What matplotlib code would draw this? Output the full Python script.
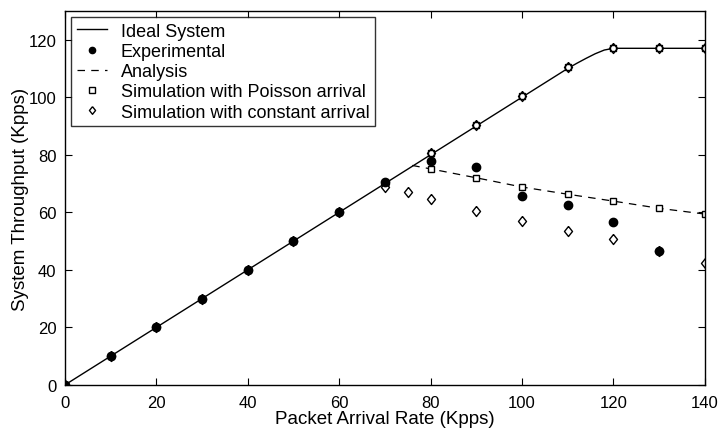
import numpy as np
import matplotlib.pyplot as plt
from matplotlib.lines import Line2D

plt.rcParams['font.family'] = ['Liberation Sans', 'DejaVu Sans']

# ideal system curve
ideal_x = [0, 10, 20, 30, 40, 50, 60, 70, 80, 90, 100, 110, 112, 114, 116, 118, 120, 130, 140]
ideal_y = [0, 10, 20, 30, 40, 50, 60, 70, 80, 90, 100, 110, 111.8, 113.5, 115.1, 116.4, 117, 117, 117]

# experimental
exp_x = [0, 10, 20, 30, 40, 50, 60, 70, 80, 90, 100, 110, 120, 130]
exp_y = [0, 10, 20, 30, 40, 50, 60, 70.5, 77.8, 75.7, 65.6, 62.6, 56.6, 46.5]

# analysis
ana_x = [76, 80, 90, 100, 110, 120, 130, 140]
ana_y = [76.3, 75.1, 72.0, 68.8, 66.3, 63.9, 61.4, 59.4]

# simulation points lying on the ideal curve (both arrival types)
sim_line_x = [0, 10, 20, 30, 40, 50, 60, 70, 80, 90, 100, 110, 120, 130, 140]
sim_line_y = [0, 10, 20, 30, 40, 50, 60, 70, 80.5, 90.3, 100.3, 110.6, 117, 117, 117]

# poisson arrival (lower branch)
poi_x = [80, 90, 100, 110, 120, 130, 140]
poi_y = [75.1, 72.0, 68.7, 66.3, 63.9, 61.4, 59.4]

# constant arrival (lower branch)
con_x = [70, 75, 80, 90, 100, 110, 120, 130, 140]
con_y = [68.9, 67.0, 64.6, 60.6, 56.9, 53.6, 50.6, 46.5, 42.3]

diamond = [(0, 1), (0.8, 0), (0, -1), (-0.8, 0), (0, 1)]

fig = plt.figure(figsize=(7.2, 4.31), dpi=100)
ax = fig.add_axes([0.090, 0.1044, 0.889, 0.868])

ax.plot(ideal_x, ideal_y, 'k-', lw=1.0)
ax.plot(ana_x, ana_y, 'k--', lw=0.9, dashes=(6, 5))
ax.plot(sim_line_x, sim_line_y, color='k', marker=diamond, ms=7.2, mfc='white', mew=1.0, ls='none')
ax.plot(sim_line_x, sim_line_y, 'ks', ms=5, mfc='none', mew=1.0, ls='none')
ax.plot(con_x, con_y, color='k', marker=diamond, ms=7.2, mfc='white', mew=1.0, ls='none')
ax.plot(poi_x, poi_y, 'ks', ms=5, mfc='white', mew=1.0, ls='none')
ax.plot(exp_x, exp_y, 'ko', ms=6, mfc='black', ls='none')

ax.set_xlim(0, 140)
ax.set_ylim(0, 130)
ax.set_xticks(np.arange(0, 141, 20))
ax.set_yticks(np.arange(0, 121, 20))
ax.tick_params(axis='x', direction='in', top=True, length=5, labelsize=12, pad=7)
ax.tick_params(axis='y', direction='in', right=True, length=5, labelsize=12, pad=6)
for s in ax.spines.values():
    s.set_linewidth(1.0)
ax.set_xlabel('Packet Arrival Rate (Kpps)', fontsize=13.5, labelpad=0)
ax.set_ylabel('System Throughput (Kpps)', fontsize=13.5, labelpad=0)

handles = [
    Line2D([], [], color='k', lw=1.0),
    Line2D([], [], color='k', marker='o', ls='none', ms=4.5),
    Line2D([], [], color='k', ls='--', lw=0.9, dashes=(6, 5)),
    Line2D([], [], color='k', marker='s', ls='none', ms=3.8, mfc='white'),
    Line2D([], [], color='k', marker=diamond, ls='none', ms=5.5, mfc='white'),
]
labels = ['Ideal System', 'Experimental', 'Analysis',
          'Simulation with Poisson arrival', 'Simulation with constant arrival']
leg = ax.legend(handles, labels, loc='upper left', fontsize=13, frameon=True,
                fancybox=False, edgecolor='black', handlelength=1.7,
                borderaxespad=0.35, labelspacing=0.18, borderpad=0.3, handletextpad=0.75)
leg.get_frame().set_linewidth(1.0)

plt.savefig('out.png', dpi=100)
